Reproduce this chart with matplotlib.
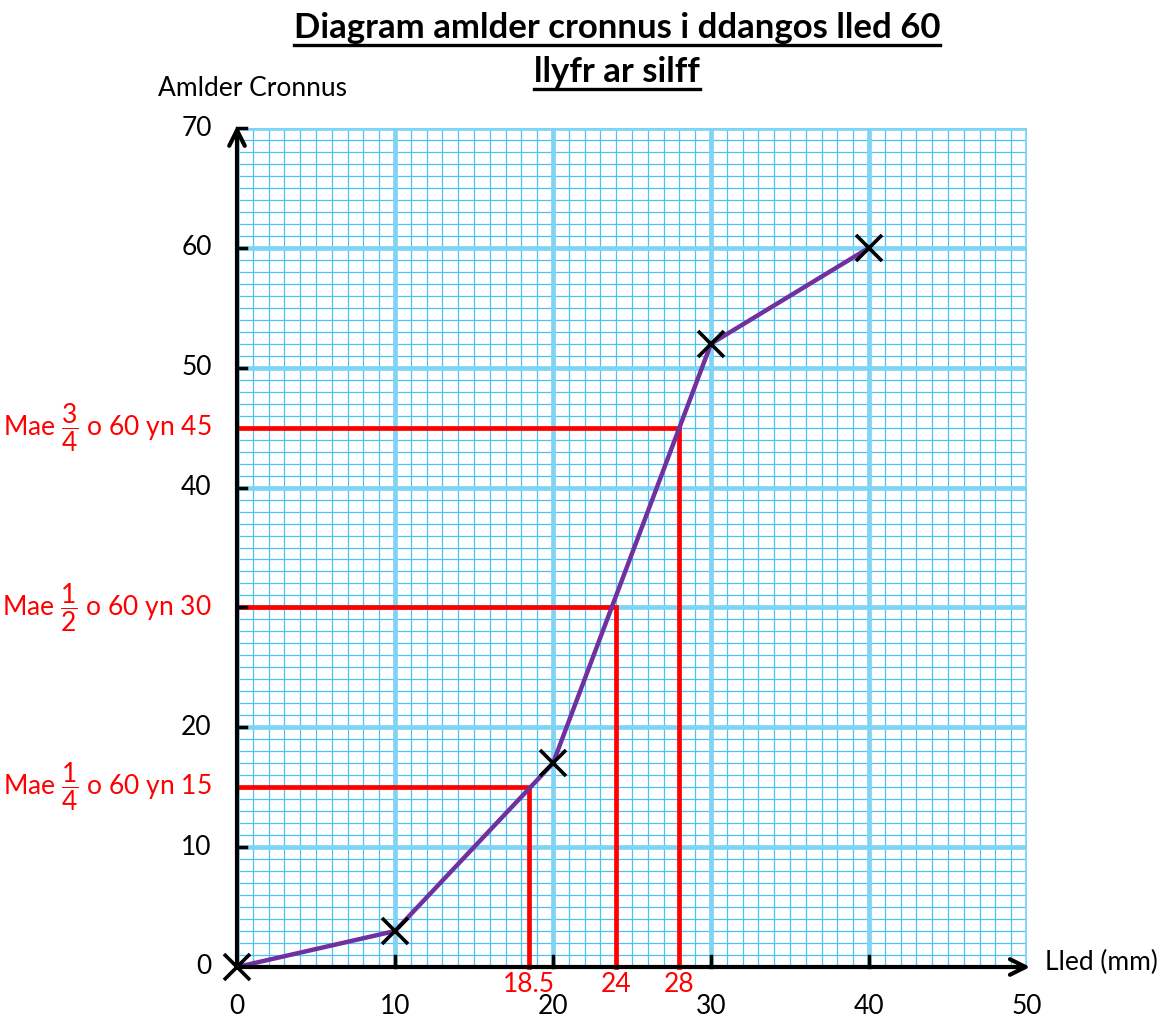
import matplotlib
matplotlib.use("Agg")
import matplotlib.pyplot as plt
from matplotlib.lines import Line2D

plt.rcParams['font.family'] = ['Lato', 'DejaVu Sans']
plt.rcParams['mathtext.fontset'] = 'custom'
plt.rcParams['mathtext.rm'] = 'Lato'
plt.rcParams['mathtext.it'] = 'Lato:italic'
plt.rcParams['mathtext.bf'] = 'Lato:bold'

# data points of the cumulative frequency curve
lled = [0, 10, 20, 30, 40]
cronnus = [0, 3, 17, 52, 60]

# quartile readings
quart_y = [15, 30, 45]
quart_x = [18.5, 24, 28]
quart_text = [r'Mae $\dfrac{1}{4}$ o 60 yn 15',
              r'Mae $\dfrac{1}{2}$ o 60 yn 30',
              r'Mae $\dfrac{3}{4}$ o 60 yn 45']
quart_xlabels = ['18.5', '24', '28']

x_ticks = [0, 10, 20, 30, 40, 50]
y_ticks = [0, 10, 20, 30, 40, 50, 60, 70]
y_labels = ['0', '10', '20', '', '40', '50', '60', '70']

RED = '#FF0000'
PURPLE = '#7030A0'
MAJOR = '#7FD4F5'
MINOR = '#4FC3F0'
FS = 19

fig = plt.figure(figsize=(11.69, 10.19), dpi=100)
ax = fig.add_axes([237/1169, 1 - 967/1019, 790/1169, 839/1019])
ax.set_xlim(0, 50)
ax.set_ylim(0, 70)

# graph paper grid
for v in range(0, 51):
    if v % 10 == 0:
        ax.axvline(v, color=MAJOR, lw=3.4, zorder=1)
    else:
        ax.axvline(v, color=MINOR, lw=0.9, zorder=0.5)
for v in range(0, 71):
    if v % 10 == 0:
        ax.axhline(v, color=MAJOR, lw=3.4, zorder=1)
    else:
        ax.axhline(v, color=MINOR, lw=0.9, zorder=0.5)

for s in ax.spines.values():
    s.set_visible(False)
ax.set_xticks([])
ax.set_yticks([])

# axes with arrows
ax.annotate('', xy=(0, 70.2), xytext=(0, 0),
            arrowprops=dict(arrowstyle='->', lw=3, color='black', mutation_scale=28,
                            shrinkA=0, shrinkB=0), zorder=5, annotation_clip=False)
ax.annotate('', xy=(50.2, 0), xytext=(0, 0),
            arrowprops=dict(arrowstyle='->', lw=3, color='black', mutation_scale=28,
                            shrinkA=0, shrinkB=0), zorder=5, annotation_clip=False)

# small ticks
for t in x_ticks[1:-1]:
    ax.plot([t, t], [0, 0.9], color='black', lw=2.5, zorder=5, clip_on=False)
for t in y_ticks[1:]:
    ax.plot([0, 0.55], [t, t], color='black', lw=2.5, zorder=5, clip_on=False)

# tick labels
for t in x_ticks:
    ax.text(t, -3.3, str(t), ha='center', va='center', fontsize=FS)
for t, lab in zip(y_ticks, y_labels):
    if lab:
        ax.text(-1.6, t, lab, ha='right', va='center', fontsize=FS)

# quartile lines
for qx, qy, txt, lab in zip(quart_x, quart_y, quart_text, quart_xlabels):
    ax.plot([0, qx, qx], [qy, qy, 0], color=RED, lw=3.4, zorder=3,
            solid_joinstyle='miter', clip_on=False)
    ax.text(-1.6, qy, txt, ha='right', va='center', fontsize=FS, color=RED)
    ax.text(qx, -1.45, lab, ha='center', va='center', fontsize=FS, color=RED)

# curve and crosses
ax.plot(lled, cronnus, color=PURPLE, lw=3.2, zorder=4, clip_on=False)
ax.plot(lled, cronnus, linestyle='none', marker='x', color='black',
        markersize=19, markeredgewidth=2.6, zorder=6, clip_on=False)

# axis titles
fig.text(253/1169, 1 - 88/1019, 'Amlder Cronnus', ha='center', va='center', fontsize=FS)
fig.text(1045/1169, 1 - 962/1019, 'Lled (mm)', ha='left', va='center', fontsize=FS)

# underlined title
titles = [('Diagram amlder cronnus i ddangos lled 60', 28),
          ('llyfr ar silff', 72)]
fig.canvas.draw()
renderer = fig.canvas.get_renderer()
for txt, py in titles:
    t = fig.text(617/1169, 1 - py/1019, txt, ha='center', va='center',
                 fontsize=25, fontweight='bold')
    bb = t.get_window_extent(renderer=renderer)
    x0, x1 = bb.x0 / fig.bbox.width, bb.x1 / fig.bbox.width
    yu = (bb.y0 - 1) / fig.bbox.height
    fig.add_artist(Line2D([x0, x1], [yu, yu], color='black', lw=2.4,
                          transform=fig.transFigure))

fig.savefig('out.png', dpi=100)
